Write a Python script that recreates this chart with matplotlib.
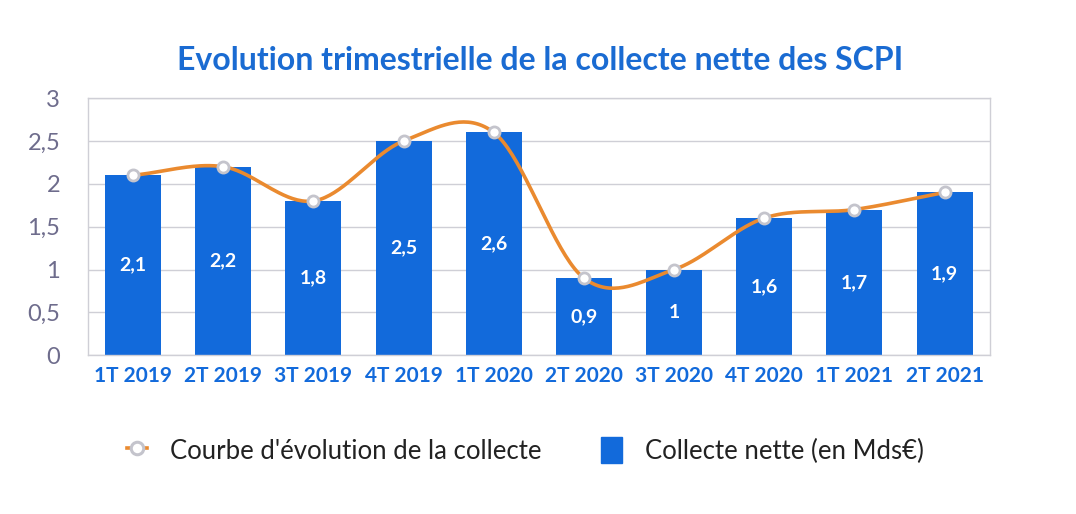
import numpy as np
import matplotlib
matplotlib.use("Agg")
import matplotlib.pyplot as plt
from matplotlib.lines import Line2D
from matplotlib.patches import Patch

plt.rcParams['font.family'] = ['Lato', 'DejaVu Sans']

quarters = ["1T 2019", "2T 2019", "3T 2019", "4T 2019", "1T 2020",
            "2T 2020", "3T 2020", "4T 2020", "1T 2021", "2T 2021"]
collecte = [2.1, 2.2, 1.8, 2.5, 2.6, 0.9, 1.0, 1.6, 1.7, 1.9]
value_labels = ["2,1", "2,2", "1,8", "2,5", "2,6", "0,9", "1", "1,6", "1,7", "1,9"]
y_ticks = [0, 0.5, 1, 1.5, 2, 2.5, 3]
y_tick_labels = ["0", "0,5", "1", "1,5", "2", "2,5", "3"]

blue = "#126ADB"
orange = "#EA8A2F"
tick_gray = "#6E6C8C"
grid_gray = "#CFCFD6"


def catmull_rom(x, y, n=40):
    # smooth curve through the points, like the spreadsheet "smoothed line"
    x = np.asarray(x, float)
    y = np.asarray(y, float)
    px = np.concatenate([[2 * x[0] - x[1]], x, [2 * x[-1] - x[-2]]])
    py = np.concatenate([[2 * y[0] - y[1]], y, [2 * y[-1] - y[-2]]])
    xs, ys = [], []
    t = np.linspace(0, 1, n)
    for i in range(1, len(px) - 2):
        for p, out in ((px, xs), (py, ys)):
            p0, p1, p2, p3 = p[i - 1], p[i], p[i + 1], p[i + 2]
            out.extend(0.5 * ((2 * p1) + (-p0 + p2) * t
                              + (2 * p0 - 5 * p1 + 4 * p2 - p3) * t ** 2
                              + (-p0 + 3 * p1 - 3 * p2 + p3) * t ** 3))
    return np.array(xs), np.array(ys)


fig = plt.figure(figsize=(10.76, 5.14), dpi=100)
ax = fig.add_axes([0.0818, 0.309, 0.838, 0.5])

x = np.arange(len(quarters))
ax.bar(x, collecte, width=0.62, color=blue, zorder=2)

sx, sy = catmull_rom(x, collecte)
ax.plot(sx, sy, color=orange, lw=2.6, zorder=3, solid_capstyle='round')
ax.plot(x, collecte, ls='none', marker='o', ms=8, mfc='white', mec='#C4C4CC',
        mew=2, zorder=4)

for xi, v, lab in zip(x, collecte, value_labels):
    ax.text(xi, v / 2, lab, ha='center', va='center', color='white',
            fontsize=14, fontweight='bold', zorder=5)

ax.set_xlim(-0.5, len(quarters) - 0.5)
ax.set_ylim(0, 3)
ax.set_yticks(y_ticks)
ax.set_yticklabels(y_tick_labels, color=tick_gray, fontsize=17)
ax.set_xticks(x)
ax.set_xticklabels(quarters, color=blue, fontsize=15, fontweight='bold')
ax.tick_params(length=0)
ax.tick_params(axis='y', pad=20)
ax.tick_params(axis='x', pad=8)
ax.grid(axis='y', color=grid_gray, lw=1, zorder=0)
ax.set_axisbelow(True)
for s in ax.spines.values():
    s.set_color(grid_gray)
    s.set_linewidth(1)

fig.suptitle("Evolution trimestrielle de la collecte nette des SCPI",
             x=0.502, y=0.91, color="#1A6BD2", fontsize=23, fontweight='bold')

handles = [
    Line2D([0], [0], color=orange, lw=2.6, marker='o', ms=9, mfc='white',
           mec='#C4C4CC', mew=2.2),
    Patch(color=blue),
]
fig.legend(handles, ["Courbe d'évolution de la collecte", "Collecte nette (en Mds€)"],
           loc='center', bbox_to_anchor=(0.488, 0.124), ncol=2, frameon=False,
           fontsize=18.5, handlelength=0.8, handleheight=1.2, columnspacing=2.3,
           handletextpad=0.9, labelcolor='#222222')

fig.savefig("out.png", dpi=100, facecolor='white')
